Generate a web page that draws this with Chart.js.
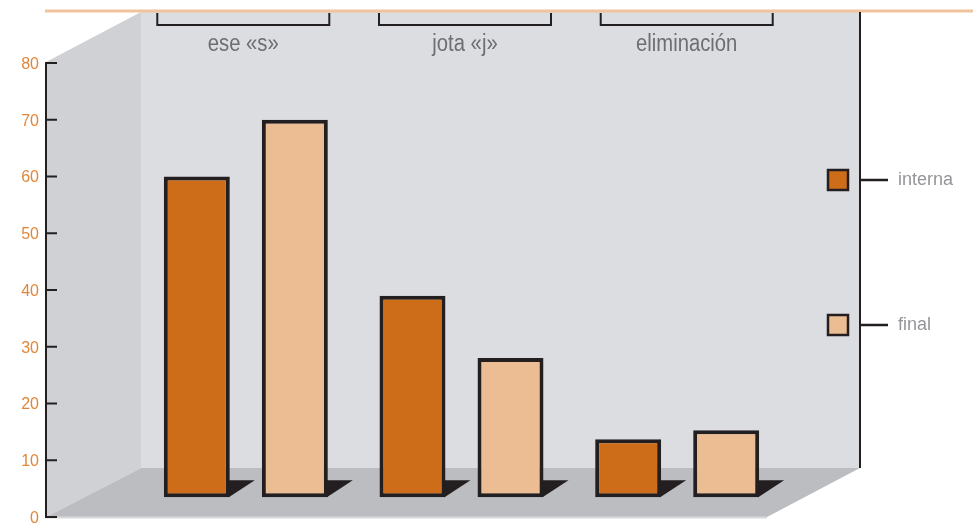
<!DOCTYPE html>
<html lang="es">
<head>
    <meta charset="UTF-8">
    <title>interna / final</title>
    <script src="https://cdn.jsdelivr.net/npm/chart.js"></script>
    <style>
        body { margin: 0; background: #fff; }
        #wrap { width: 973px; height: 526px; }
    </style>
</head>
<body>
    <div id="wrap"><canvas id="myChart"></canvas></div>
    <script>
        // datos
        const categories = ['ese «s»', 'jota «j»', 'eliminación'];
        const seriesNames = ['interna', 'final'];
        const interna = [60, 39, 13.7];
        const finalVals = [70, 28, 15.3];
        const yTicks = [0, 10, 20, 30, 40, 50, 60, 70, 80];

        const colInterna = '#cd6d19';
        const colFinal = '#ecbd93';
        const ink = '#231f20';

        // fondo 3D, eje y, etiquetas superiores y leyenda
        const decor = {
            id: 'decor',
            beforeDraw(chart) {
                const c = chart.ctx;
                const a = chart.chartArea;
                const y = chart.scales.y;
                const x = chart.scales.x;
                const axisX = a.left - 92;          // 46
                const backL = a.left + 3;           // 141
                const backR = a.right + 75;         // 860
                const backB = a.bottom - 49;        // 468
                const top = 12;

                c.save();
                c.fillStyle = '#fff';
                c.fillRect(0, 0, chart.width, chart.height);

                // pared del fondo
                c.fillStyle = '#dcdde0';
                c.fillRect(backL, top, backR - backL, backB - top);
                // pared izquierda
                c.fillStyle = '#d0d1d4';
                c.beginPath();
                c.moveTo(axisX, y.getPixelForValue(80) - 1);
                c.lineTo(backL, top);
                c.lineTo(backL, backB);
                c.lineTo(axisX, a.bottom);
                c.closePath();
                c.fill();
                // suelo
                c.fillStyle = '#bcbdc0';
                c.beginPath();
                c.moveTo(axisX, a.bottom);
                c.lineTo(backL, backB);
                c.lineTo(backR, backB);
                c.lineTo(backR - 93, a.bottom);
                c.closePath();
                c.fill();
                c.strokeStyle = '#d8d9db';
                c.lineWidth = 2;
                c.beginPath();
                c.moveTo(axisX, a.bottom + 0.5);
                c.lineTo(backR - 93, a.bottom + 0.5);
                c.stroke();

                // linea naranja superior
                c.strokeStyle = '#efc49d';
                c.lineWidth = 3;
                c.beginPath();
                c.moveTo(45, 11);
                c.lineTo(chart.width, 11);
                c.stroke();

                // borde derecho
                c.strokeStyle = ink;
                c.lineWidth = 2;
                c.beginPath();
                c.moveTo(backR, top);
                c.lineTo(backR, backB);
                c.stroke();

                // corchetes y categorias
                const mid = x.getPixelForValue(1);
                categories.forEach((lab, i) => {
                    const cx = mid + 3.5 + (x.getPixelForValue(i) - mid) * 1.028;
                    c.strokeStyle = ink;
                    c.lineWidth = 2;
                    c.beginPath();
                    c.moveTo(cx - 86, 13);
                    c.lineTo(cx - 86, 25);
                    c.lineTo(cx + 86, 25);
                    c.lineTo(cx + 86, 13);
                    c.stroke();
                    c.save();
                    c.translate(cx, 50.5);
                    c.scale(0.88, 1);
                    c.fillStyle = '#6d6e71';
                    c.font = '23px "Liberation Sans", Arial, sans-serif';
                    c.textAlign = 'center';
                    c.textBaseline = 'alphabetic';
                    c.fillText(lab, 0, 0);
                    c.restore();
                });

                // eje y
                c.strokeStyle = ink;
                c.lineWidth = 2;
                c.beginPath();
                c.moveTo(axisX, y.getPixelForValue(80) - 1);
                c.lineTo(axisX, a.bottom + 1);
                c.stroke();
                c.font = '16px "Liberation Sans", Arial, sans-serif';
                c.fillStyle = '#e0873b';
                c.textAlign = 'right';
                c.textBaseline = 'middle';
                yTicks.forEach(v => {
                    const py = y.getPixelForValue(v);
                    c.beginPath();
                    c.moveTo(axisX, py);
                    c.lineTo(axisX + 11, py);
                    c.stroke();
                    c.fillText(String(v), axisX - 7, py + 1.5);
                });

                // leyenda
                const cols = [colInterna, colFinal];
                seriesNames.forEach((name, i) => {
                    const ly = 180 + i * 145;
                    c.fillStyle = cols[i];
                    c.fillRect(827, ly - 11, 22, 22);
                    c.strokeStyle = ink;
                    c.lineWidth = 2.5;
                    c.strokeRect(828, ly - 10, 20, 20);
                    c.beginPath();
                    c.moveTo(backR, ly);
                    c.lineTo(888, ly);
                    c.stroke();
                    c.fillStyle = '#939598';
                    c.font = '18px "Liberation Sans", Arial, sans-serif';
                    c.textAlign = 'left';
                    c.textBaseline = 'alphabetic';
                    c.fillText(name, 898, ly + 4.5);
                });
                c.restore();
            },
            beforeDatasetsDraw(chart) {
                // sombras de las barras sobre el suelo
                const c = chart.ctx;
                c.save();
                c.fillStyle = ink;
                chart.data.datasets.forEach((ds, di) => {
                    chart.getDatasetMeta(di).data.forEach(bar => {
                        const r = bar.x + bar.width / 2;
                        c.beginPath();
                        c.moveTo(r - 1, bar.base - 17);
                        c.lineTo(r + 25, bar.base - 17);
                        c.lineTo(r - 1, bar.base);
                        c.closePath();
                        c.fill();
                    });
                });
                c.restore();
            }
        };

        const ctx = document.getElementById('myChart').getContext('2d');
        new Chart(ctx, {
            type: 'bar',
            data: {
                labels: categories,
                datasets: [{
                    label: seriesNames[0],
                    data: interna,
                    backgroundColor: colInterna
                }, {
                    label: seriesNames[1],
                    data: finalVals,
                    backgroundColor: colFinal
                }]
            },
            options: {
                responsive: true,
                maintainAspectRatio: false,
                animation: false,
                layout: { padding: { left: 138, right: 188, top: 63, bottom: 9 } },
                datasets: {
                    bar: {
                        base: 3.5,
                        borderColor: ink,
                        borderWidth: 4,
                        borderSkipped: false,
                        categoryPercentage: 0.909,
                        barPercentage: 0.673
                    }
                },
                plugins: { legend: { display: false }, tooltip: { enabled: false } },
                scales: {
                    x: { display: false },
                    y: { display: false, min: 0, max: 80 }
                }
            },
            plugins: [decor]
        });
    </script>
</body>
</html>
